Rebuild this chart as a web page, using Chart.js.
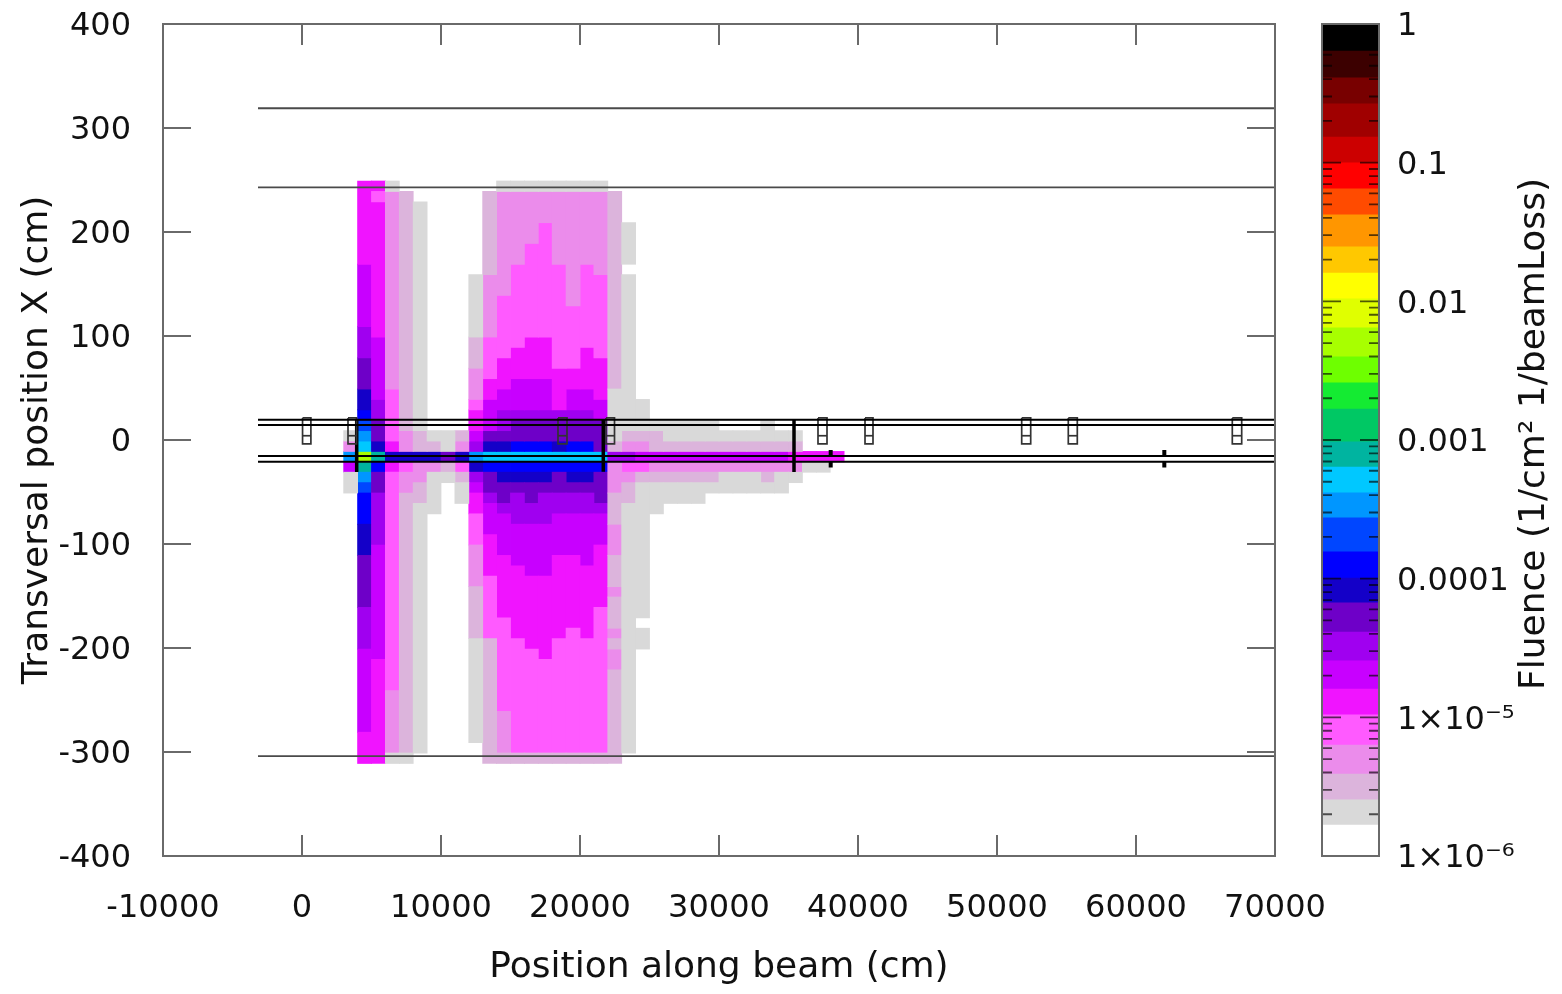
<!DOCTYPE html>
<html>
<head>
<meta charset="utf-8">
<title>Fluence map</title>
<script src="https://cdn.jsdelivr.net/npm/chart.js@4"></script>
<style>
  html, body { margin: 0; background: #fff; }
  canvas { position: absolute; left: 0; top: 0; filter: blur(0.5px); }
</style>
</head>
<body>
<canvas id="mapChart" width="1562" height="994"></canvas>
<canvas id="barChart" width="1562" height="994"></canvas>
<script>
// Axis ticks and titles
const xTicks = [-10000, 0, 10000, 20000, 30000, 40000, 50000, 60000, 70000];
const yTicks = [-400, -300, -200, -100, 0, 100, 200, 300, 400];
const fluenceTicks = [1, 0.1, 0.01, 0.001, 0.0001, 0.00001, 0.000001];
const fluenceLabels = ["1", "0.1", "0.01", "0.001", "0.0001", "1×10⁻⁵", "1×10⁻⁶"];
const fluenceMinor = [2, 3, 4, 5, 6, 7, 8, 9];

// Fluence band edges, bottom to top
const bandEdges = [0.000001, 0.00000167, 0.00000254, 0.0000039, 0.0000063, 0.0000104, 0.000016, 0.0000255,
  0.0000412, 0.0000668, 0.000101, 0.000156, 0.000274, 0.000415, 0.000638, 0.000967, 0.00167, 0.00258,
  0.00397, 0.00643, 0.0104, 0.016, 0.0247, 0.042, 0.0646, 0.0995, 0.153, 0.265, 0.408, 0.638, 1];
const bandColors = ["#ffffff", "#d9d9d9", "#dcb4dc", "#eb8ceb", "#ff5aff", "#f014ff", "#c800ff", "#a000f0",
  "#6e00c8", "#1400c8", "#0000ff", "#0046ff", "#0096ff", "#00c8ff", "#00b4a0", "#00c864", "#14eb32",
  "#6eff00", "#a8ff00", "#e0ff00", "#ffff00", "#ffc800", "#ff9600", "#ff4b00", "#ff0000", "#cc0000",
  "#a00000", "#780000", "#3c0000", "#000000"];

// band numbers used in the map
const G = 1, P = 2, L = 3, K = 4, M = 5, V = 6, W = 7, D = 8, N = 9, B = 10, E = 11, S = 12, C = 13, T = 14, Y = 18;

// Row edges of the map in cm, top to bottom
const yEdges = [249, 239, 229, 219, 209, 199, 189, 179, 169, 159, 149, 139, 129, 119, 109, 99, 89, 79, 69, 59,
  49, 39, 29, 19, 9, -1, -11, -21, -31, -41, -51, -61, -71, -81, -91, -101, -111, -121, -131, -141, -151,
  -161, -171, -181, -191, -201, -211, -221, -231, -241, -251, -261, -271, -281, -291, -301, -311];

// Each column: [first row, row after last, band], x is the left edge of the bin
const col3000 = [[24,25,G],[25,26,L],[26,27,S],[27,28,V],[28,30,G]];
const col4000 = [[0,8,M],[8,14,V],[14,17,W],[17,20,D],[20,22,N],[22,23,B],[23,24,E],[24,25,S],[25,26,C],[26,27,Y],[27,28,T],[28,29,S],[29,30,E],[30,33,B],[33,36,N],[36,41,D],[41,45,W],[45,53,V],[53,56,M]];
const col5000 = [[0,1,M],[1,2,K],[2,15,M],[15,21,V],[21,23,W],[23,25,D],[25,26,N],[26,27,T],[27,28,B],[28,30,D],[30,35,W],[35,46,V],[46,56,M]];
const col6000 = [[0,1,G],[1,20,L],[20,25,K],[25,26,M],[26,27,N],[27,28,M],[28,49,K],[49,55,L],[55,56,G]];
const col7000 = [[1,24,P],[24,26,L],[26,27,N],[27,28,K],[28,30,L],[30,55,P],[55,56,G]];
const col8000 = [[2,24,G],[24,26,P],[26,27,N],[27,29,L],[29,31,P],[31,55,G]];
const col9000 = [[24,25,G],[25,26,P],[26,27,N],[27,28,L],[28,32,G]];
const col10000 = [[24,26,G],[26,27,D],[27,28,P],[28,29,G]];
const col11000 = [[24,25,P],[25,26,L],[26,27,N],[27,28,K],[28,29,P],[29,31,G]];
const col12000 = [[9,15,G],[15,18,P],[18,21,L],[21,22,K],[22,24,M],[24,25,V],[25,26,W],[26,27,S],[27,28,N],[28,29,W],[29,30,V],[30,32,M],[32,35,K],[35,39,L],[39,44,P],[44,54,G]];
const col13000 = [[1,9,P],[9,15,L],[15,19,K],[19,21,M],[21,24,V],[24,25,D],[25,26,N],[26,27,C],[27,28,B],[28,30,D],[30,31,W],[31,34,V],[34,38,M],[38,44,K],[44,56,P]];
const col14000 = [[0,1,G],[1,11,L],[11,17,K],[17,20,M],[20,22,V],[22,24,W],[24,25,D],[25,26,N],[26,27,C],[27,28,B],[28,29,N],[29,31,D],[31,32,W],[32,36,V],[36,42,M],[42,51,K],[51,55,L],[55,56,P]];
const col15000 = [[0,1,G],[1,8,L],[8,16,K],[16,19,M],[19,22,V],[22,23,W],[23,25,D],[25,26,B],[26,27,C],[27,28,B],[28,29,N],[29,30,D],[30,33,W],[33,37,V],[37,44,M],[44,55,K],[55,56,P]];
const col16000 = [[0,1,G],[1,6,L],[6,15,K],[15,19,M],[19,22,V],[22,23,W],[23,25,D],[25,26,B],[26,27,C],[27,28,B],[28,29,N],[29,31,D],[31,33,W],[33,38,V],[38,45,M],[45,55,K],[55,56,P]];
const col17000 = [[0,1,G],[1,4,L],[4,15,K],[15,19,M],[19,22,V],[22,23,W],[23,25,D],[25,26,B],[26,27,C],[27,28,B],[28,29,N],[29,30,D],[30,33,W],[33,38,V],[38,46,M],[46,55,K],[55,56,P]];
const col18000 = [[0,1,G],[1,8,L],[8,18,K],[18,22,M],[22,23,W],[23,25,D],[25,26,N],[26,27,C],[27,28,B],[28,30,D],[30,32,W],[32,36,V],[36,44,M],[44,55,K],[55,56,P]];
const col19000 = [[0,1,G],[1,12,L],[12,18,K],[18,20,M],[20,22,V],[22,23,W],[23,25,D],[25,26,B],[26,27,C],[27,28,B],[28,29,N],[29,30,D],[30,32,W],[32,36,V],[36,43,M],[43,55,K],[55,56,P]];
const col20000 = [[0,1,G],[1,8,L],[8,16,K],[16,20,M],[20,22,V],[22,23,W],[23,25,D],[25,26,B],[26,27,C],[27,28,B],[28,29,N],[29,30,D],[30,32,W],[32,37,V],[37,44,M],[44,55,K],[55,56,P]];
const col21000 = [[0,1,G],[1,9,L],[9,17,K],[17,21,M],[21,23,V],[23,26,D],[26,27,C],[27,28,B],[28,31,D],[31,32,W],[32,35,V],[35,41,M],[41,55,K],[55,56,P]];
const col22000 = [[1,20,P],[20,25,G],[25,26,P],[26,27,W],[27,30,L],[30,33,P],[33,36,L],[36,39,P],[39,40,L],[40,43,P],[43,44,L],[44,45,P],[45,47,L],[47,56,P]];
const col23000 = [[4,8,G],[9,24,G],[24,25,P],[25,26,L],[26,27,W],[27,28,K],[28,29,L],[29,31,P],[31,55,G]];
const col24000 = [[21,24,G],[24,25,P],[25,26,L],[26,27,V],[27,28,K],[28,29,P],[29,42,G],[43,45,G]];
const col25000 = [[23,24,G],[24,26,P],[26,27,V],[27,28,L],[28,29,P],[29,32,G]];
const col26000 = [[23,25,G],[25,26,P],[26,27,V],[27,28,L],[28,29,P],[29,31,G]];
const col27000 = [[23,25,G],[25,26,P],[26,27,V],[27,28,L],[28,29,P],[29,31,G]];
const col28000 = [[23,25,G],[25,26,P],[26,27,V],[27,28,L],[28,29,P],[29,31,G]];
const col29000 = [[23,25,G],[25,26,P],[26,27,V],[27,28,L],[28,29,P],[29,30,G]];
const col30000 = [[24,25,G],[25,26,P],[26,27,V],[27,28,L],[28,30,G]];
const col31000 = [[24,25,G],[25,26,P],[26,27,V],[27,28,L],[28,30,G]];
const col32000 = [[24,25,G],[25,26,P],[26,27,V],[27,28,L],[28,30,G]];
const col33000 = [[23,25,G],[25,26,P],[26,27,V],[27,28,L],[28,29,P],[29,30,G]];
const col34000 = [[24,25,G],[25,26,P],[26,27,V],[27,28,L],[28,30,G]];
const col35000 = [[24,25,G],[25,26,P],[26,27,M],[27,28,L],[28,29,G]];
const col36000 = [[26,27,M],[27,28,G]];
const col37000 = [[26,27,M],[27,28,G]];
const col38000 = [[26,27,M]];

const columnStarts = [3000, 4000, 5000, 6000, 7000, 8000, 9000, 10000, 11000, 12000, 13000, 14000, 15000, 16000,
  17000, 18000, 19000, 20000, 21000, 22000, 23000, 24000, 25000, 26000, 27000, 28000, 29000, 30000, 31000,
  32000, 33000, 34000, 35000, 36000, 37000, 38000];
const columns = [col3000, col4000, col5000, col6000, col7000, col8000, col9000, col10000, col11000, col12000,
  col13000, col14000, col15000, col16000, col17000, col18000, col19000, col20000, col21000, col22000, col23000,
  col24000, col25000, col26000, col27000, col28000, col29000, col30000, col31000, col32000, col33000, col34000,
  col35000, col36000, col37000, col38000];

// Beam line geometry in cm
const longLinesY = [319, 243, -304];
const pipeLinesY = [19.5, 14.5, -15.5, -21];
const lineStartX = -3165;
const lineEndX = 70000;
const magnetLeft = [40, 3309, 18417, 21871, 37122, 40504, 51777, 55129, 66928];
const magnetRight = [640, 3921, 19065, 22482, 37770, 41079, 52424, 55777, 67604];
const magnetTop = 21.2;
const magnetMiddle = 4.1;
const magnetBottom = -3.8;
const collimatorX = [3935, 21675, 35396];
const collimatorTop = [19.5, 20, 19.5];
const collimatorBottom = [-30.8, -30.5, -30.8];
const slitX = [38036, 62037];
const slitUpper = [-9.6, -16.3];
const slitLower = [-21, -26.4];

const FONT = "'DejaVu Sans'";
const TEXT = "#111111";
const FRAME = "#6a6a6a";

// One bar dataset per band, the bars are the vertical runs of cells
const bandDatasets = [];
bandColors.forEach((color, band) => {
  const cells = [];
  columns.forEach((runs, i) => {
    runs.filter(r => r[2] === band).forEach(r => {
      cells.push({ x: columnStarts[i] + 500, y: [yEdges[r[1]], yEdges[r[0]]] });
    });
  });
  if (cells.length) {
    bandDatasets.push({
      type: "bar", data: cells, backgroundColor: color, borderWidth: 0, inflateAmount: 0.4,
      grouped: false, categoryPercentage: 1, barPercentage: 1, order: 2
    });
  }
});

function lineDataset(points, color, width) {
  return { type: "line", data: points, borderColor: color, borderWidth: width, pointRadius: 0,
    tension: 0, fill: false, order: 1, borderCapStyle: "butt" };
}

const lineDatasets = [];
longLinesY.forEach(y => {
  lineDatasets.push(lineDataset([{ x: lineStartX, y }, { x: lineEndX, y }], "#4a4a4a", 1.8));
});
pipeLinesY.forEach(y => {
  lineDatasets.push(lineDataset([{ x: lineStartX, y }, { x: lineEndX, y }], "#000000", 2));
});
magnetLeft.forEach((left, i) => {
  const right = magnetRight[i];
  lineDatasets.push(lineDataset([
    { x: left, y: magnetTop }, { x: right, y: magnetTop }, { x: right, y: magnetBottom },
    { x: left, y: magnetBottom }, { x: left, y: magnetTop }
  ], "#333333", 1.7));
  lineDatasets.push(lineDataset([{ x: left, y: magnetMiddle }, { x: right, y: magnetMiddle }], "#333333", 1.7));
});
collimatorX.forEach((x, i) => {
  lineDatasets.push(lineDataset([{ x, y: collimatorTop[i] }, { x, y: collimatorBottom[i] }], "#000000", 3.5));
});
slitX.forEach(x => {
  lineDatasets.push(lineDataset([{ x, y: slitUpper[0] }, { x, y: slitUpper[1] }], "#000000", 4));
  lineDatasets.push(lineDataset([{ x, y: slitLower[0] }, { x, y: slitLower[1] }], "#000000", 4));
});

// gnuplot style frame, ticks point inside on all four sides
const insideTicks = {
  id: "insideTicks",
  afterDatasetsDraw(chart) {
    const { ctx, chartArea: a, scales } = chart;
    ctx.save();
    ctx.strokeStyle = FRAME;
    ctx.lineWidth = 2;
    ctx.strokeRect(a.left, a.top, a.right - a.left, a.bottom - a.top);
    ctx.beginPath();
    xTicks.forEach(v => {
      const px = scales.x.getPixelForValue(v);
      ctx.moveTo(px, a.bottom); ctx.lineTo(px, a.bottom - 21);
      ctx.moveTo(px, a.top); ctx.lineTo(px, a.top + 21);
    });
    yTicks.forEach(v => {
      const py = scales.y.getPixelForValue(v);
      ctx.moveTo(a.left, py); ctx.lineTo(a.left + 28, py);
      ctx.moveTo(a.right, py); ctx.lineTo(a.right - 28, py);
    });
    ctx.stroke();
    ctx.restore();
  }
};

// stop the half-label padding from pushing the plot area around
function fixSize(scale, prop, size) {
  scale[prop] = size;
  scale.paddingTop = 0;
  scale.paddingBottom = 0;
  scale.paddingLeft = 0;
  scale.paddingRight = 0;
}

new Chart(document.getElementById("mapChart"), {
  type: "bar",
  data: { datasets: bandDatasets.concat(lineDatasets) },
  plugins: [insideTicks],
  options: {
    responsive: false,
    animation: false,
    devicePixelRatio: 1,
    layout: { padding: { top: 24, right: 287, left: 0, bottom: 0 } },
    plugins: { legend: { display: false }, tooltip: { enabled: false } },
    scales: {
      x: {
        type: "linear", min: -10000, max: 70000, offset: false,
        grid: { display: false }, border: { display: false },
        afterBuildTicks: s => { s.ticks = xTicks.map(v => ({ value: v })); },
        afterFit: s => fixSize(s, "height", 138),
        ticks: { color: TEXT, font: { family: FONT, size: 32 }, padding: 25, maxRotation: 0, autoSkip: false, callback: v => String(v) },
        title: { display: true, text: "Position along beam (cm)", color: TEXT, font: { family: FONT, size: 36 }, padding: { top: 0, bottom: 5 } }
      },
      y: {
        type: "linear", min: -400, max: 400,
        grid: { display: false }, border: { display: false },
        afterBuildTicks: s => { s.ticks = yTicks.map(v => ({ value: v })); },
        afterFit: s => fixSize(s, "width", 163),
        ticks: { color: TEXT, font: { family: FONT, size: 32 }, padding: 24, labelOffset: 3, autoSkip: false, callback: v => String(v) },
        title: { display: true, text: "Transversal position X (cm)", color: TEXT, font: { family: FONT, size: 36 }, padding: { top: 16, bottom: 0 } }
      }
    }
  }
});

// Colour bar: minor and major ticks inside both edges, plus the axis title
const barFrame = {
  id: "barFrame",
  afterDatasetsDraw(chart) {
    const { ctx, chartArea: a, scales } = chart;
    ctx.save();
    ctx.strokeStyle = "rgba(0,0,0,0.65)";
    ctx.lineWidth = 1.8;
    ctx.beginPath();
    fluenceTicks.forEach((v, i) => {
      const py = scales.y.getPixelForValue(v);
      ctx.moveTo(a.left, py); ctx.lineTo(a.left + 19, py);
      ctx.moveTo(a.right, py); ctx.lineTo(a.right - 19, py);
      if (i < fluenceTicks.length - 1) {
        fluenceMinor.forEach(m => {
          const my = scales.y.getPixelForValue(fluenceTicks[i + 1] * m);
          ctx.moveTo(a.left, my); ctx.lineTo(a.left + 10, my);
          ctx.moveTo(a.right, my); ctx.lineTo(a.right - 10, my);
        });
      }
    });
    ctx.stroke();
    ctx.strokeStyle = FRAME;
    ctx.lineWidth = 2;
    ctx.strokeRect(a.left, a.top, a.right - a.left, a.bottom - a.top);
    ctx.translate(1535, (a.top + a.bottom) / 2 - 6);
    ctx.rotate(-Math.PI / 2);
    ctx.fillStyle = TEXT;
    ctx.font = "36px " + FONT;
    ctx.textAlign = "center";
    ctx.textBaseline = "middle";
    ctx.fillText("Fluence (1/cm² 1/beamLoss)", 0, 0);
    ctx.restore();
  }
};

new Chart(document.getElementById("barChart"), {
  type: "bar",
  data: {
    labels: ["fluence"],
    datasets: bandColors.map((color, i) => ({
      data: [[bandEdges[i], bandEdges[i + 1]]],
      backgroundColor: color, borderWidth: 0, inflateAmount: 0.4,
      grouped: false, categoryPercentage: 1, barPercentage: 1
    }))
  },
  plugins: [barFrame],
  options: {
    responsive: false,
    animation: false,
    devicePixelRatio: 1,
    layout: { padding: { top: 24, right: 0, left: 1322, bottom: 138 } },
    plugins: { legend: { display: false }, tooltip: { enabled: false } },
    scales: {
      x: { display: false },
      y: {
        type: "logarithmic", min: 0.000001, max: 1, position: "right",
        grid: { display: false }, border: { display: false },
        afterBuildTicks: s => { s.ticks = fluenceTicks.map(v => ({ value: v })); },
        afterFit: s => fixSize(s, "width", 183),
        ticks: {
          color: TEXT, font: { family: FONT, size: 32 }, padding: 10, labelOffset: 3, autoSkip: false,
          callback: v => fluenceLabels[fluenceTicks.indexOf(v)]
        }
      }
    }
  }
});
</script>
</body>
</html>
